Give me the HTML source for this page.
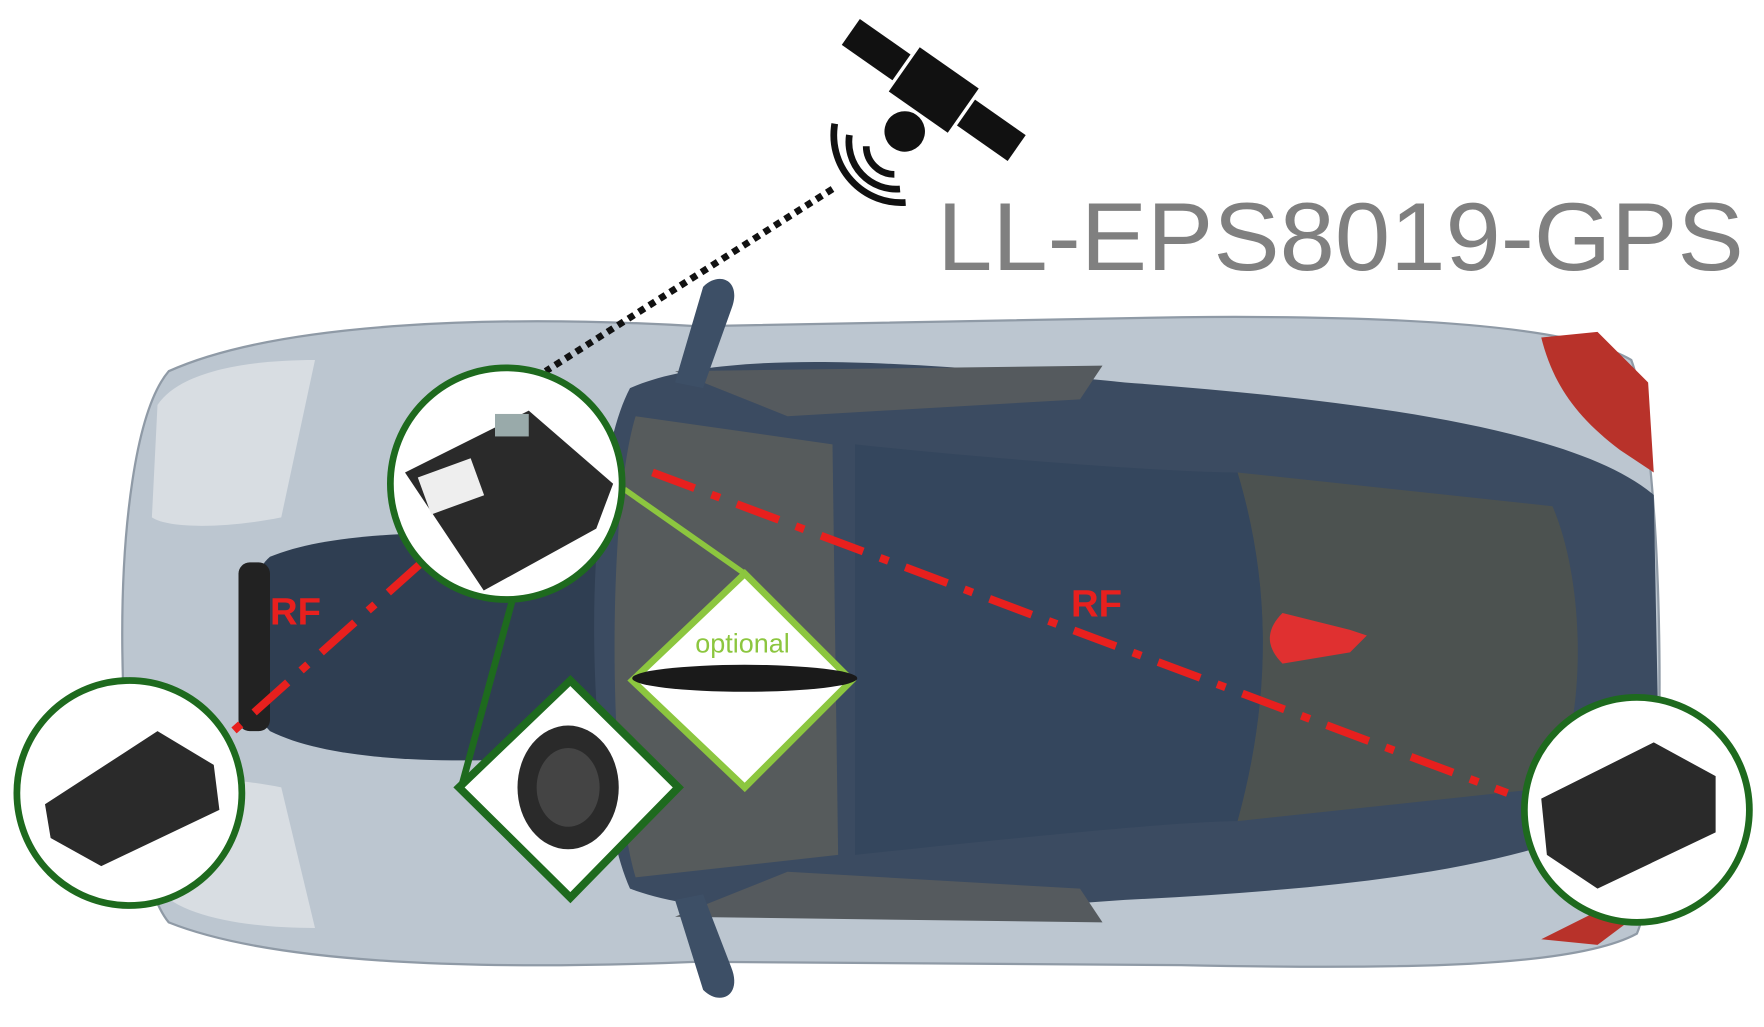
<!DOCTYPE html>
<html><head><style>html,body{margin:0;padding:0;background:#fff;overflow:hidden}svg{display:block}</style></head>
<body>
<svg width="1764" height="1027" viewBox="0 0 1568 913" preserveAspectRatio="none" xmlns="http://www.w3.org/2000/svg">
<rect width="1568" height="913" fill="#fff"/>
<path d="M150,330 C250,285 450,280 620,290 L1050,282 C1250,280 1400,290 1450,320 C1480,400 1485,760 1455,830 C1400,860 1250,862 1050,858 L620,855 C450,862 250,860 150,820 C100,760 90,400 150,330 Z" fill="#bcc6d0" stroke="#8f9aa6" stroke-width="2"/>
<path d="M140,360 C160,330 220,320 280,320 L250,460 C200,470 150,470 135,460 Z" fill="#d8dde2"/>
<path d="M140,790 C160,815 220,825 280,825 L250,700 C200,690 150,690 135,700 Z" fill="#d8dde2"/>
<path d="M240,495 C300,470 420,470 540,480 L540,670 C420,680 300,680 240,650 C210,620 210,520 240,495 Z" fill="#2f3e52"/>
<rect x="212" y="500" width="28" height="150" rx="10" fill="#222"/>
<path d="M560,345 C640,310 800,320 1000,340 C1200,355 1400,380 1470,440 L1475,700 C1400,770 1200,790 1000,800 C800,815 640,820 560,790 C520,700 515,430 560,345 Z" fill="#3b4b61"/>
<path d="M600,330 L980,325 L960,355 L700,370 Z" fill="#555a5e"/>
<path d="M600,815 L980,820 L960,790 L700,775 Z" fill="#555a5e"/>
<path d="M565,370 L740,395 L745,760 L565,780 C540,700 540,450 565,370 Z" fill="#565b5c"/>
<path d="M1100,420 L1380,450 C1410,520 1410,640 1380,700 L1100,730 C1130,620 1130,520 1100,420 Z" fill="#4c5250"/>
<path d="M760,395 C900,410 1050,420 1100,420 C1130,520 1130,620 1100,730 C1050,730 900,745 760,760 Z" fill="#34465d"/>
<path d="M1140,545 L1200,560 L1215,565 L1200,580 L1140,590 C1125,575 1125,560 1140,545 Z" fill="#e03030"/>
<path d="M1370,300 L1420,295 L1465,340 L1470,420 L1440,400 C1400,370 1380,340 1370,300 Z" fill="#b8322a"/>
<path d="M1370,835 L1420,840 L1460,810 L1440,800 Z" fill="#b8322a"/>
<path d="M600,340 L625,255 C640,240 660,250 650,275 L625,345 Z" fill="#3d4f66"/>
<path d="M600,800 L625,880 C640,895 660,885 650,860 L625,795 Z" fill="#3d4f66"/>
<g transform="translate(830,80) rotate(35)" fill="#111">
<rect x="-90" y="-14" width="55" height="28"/>
<rect x="35" y="-14" width="55" height="28"/>
<rect x="-32" y="-24" width="64" height="48"/>
<circle cx="0" cy="45" r="18"/>
</g>
<g fill="none" stroke="#111" stroke-width="6">
<path d="M770,130 A25,25 0 0 0 795,155"/>
<path d="M755,120 A42,42 0 0 0 800,168"/>
<path d="M742,110 A60,60 0 0 0 805,180"/>
</g>
<line x1="740" y1="168" x2="485" y2="330" stroke="#111" stroke-width="6" stroke-dasharray="6,5"/>
<text x="833" y="240" font-family="Liberation Sans, sans-serif" font-size="86" fill="#808080" textLength="717" lengthAdjust="spacingAndGlyphs">LL-EPS8019-GPS</text>
<line x1="455" y1="535" x2="410" y2="700" stroke="#1e6a1e" stroke-width="6"/>
<line x1="555" y1="435" x2="662" y2="510" stroke="#8cc63f" stroke-width="5"/>
<g stroke="#e8201e" stroke-width="7" fill="none" stroke-dasharray="40,16,8,16">
<line x1="580" y1="420" x2="1340" y2="705"/>
<line x1="375" y1="500" x2="205" y2="652"/>
</g>
<text x="240" y="555" font-family="Liberation Sans, sans-serif" font-weight="bold" font-size="34" fill="#e8201e">RF</text>
<text x="952" y="548" font-family="Liberation Sans, sans-serif" font-weight="bold" font-size="34" fill="#e8201e">RF</text>
<polygon points="662,510 757,605 662,700 562,605" fill="#fff" stroke="#8cc63f" stroke-width="6"/>
<text x="660" y="580" text-anchor="middle" font-family="Liberation Sans, sans-serif" font-size="24" fill="#8cc63f">optional</text>
<ellipse cx="662" cy="603" rx="100" ry="12" fill="#1a1a1a"/>
<polygon points="507,605 603,700 507,798 408,700" fill="#fff" stroke="#1e6a1e" stroke-width="7"/>
<ellipse cx="505" cy="700" rx="45" ry="55" fill="#2a2a2a"/>
<ellipse cx="505" cy="700" rx="28" ry="35" fill="#444"/>
<circle cx="450" cy="430" r="103" fill="#fff" stroke="#1e6a1e" stroke-width="6"/>
<path d="M360,420 L470,365 L545,430 L530,470 L430,525 Z" fill="#2a2a2a"/>
<rect x="375" y="415" width="50" height="35" fill="#eee" transform="rotate(-20 400 430)"/>
<rect x="440" y="368" width="30" height="20" fill="#9aa" />
<circle cx="115" cy="705" r="100" fill="#fff" stroke="#1e6a1e" stroke-width="6"/>
<path d="M40,715 L140,650 L190,680 L195,720 L90,770 L45,745 Z" fill="#2a2a2a"/>
<circle cx="1455" cy="720" r="100" fill="#fff" stroke="#1e6a1e" stroke-width="6"/>
<path d="M1370,710 L1470,660 L1525,690 L1525,740 L1420,790 L1375,760 Z" fill="#2a2a2a"/>
</svg>
</body></html>
